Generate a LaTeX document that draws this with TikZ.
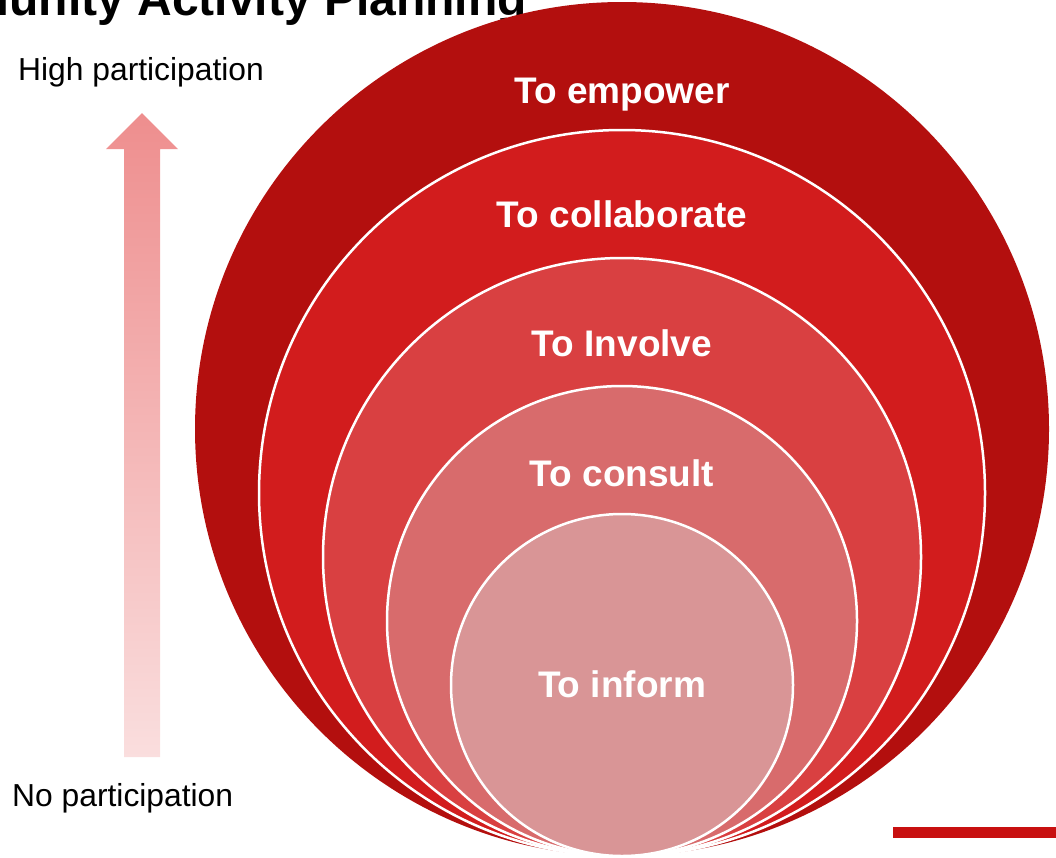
\documentclass[tikz,border=0pt]{standalone}
\usepackage{fontspec}
\setmainfont{Liberation Sans}
\begin{document}
\begin{tikzpicture}[x=1pt,y=-1pt,
  ring/.style={draw=white, line width=2.5pt},
  ringlabel/.style={anchor=base, text=white, font=\fontsize{37}{40}\selectfont\bfseries, inner sep=0pt},
  sidelabel/.style={anchor=base west, text=black, font=\fontsize{31.8}{34}\selectfont, inner sep=0pt},
  titlelabel/.style={anchor=base east, text=black, font=\fontsize{48}{52}\selectfont\bfseries, inner sep=0pt}]
  \definecolor{cEmpower}{RGB}{179,15,14}
  \definecolor{cCollab}{RGB}{210,28,29}
  \definecolor{cInvolve}{RGB}{217,64,65}
  \definecolor{cConsult}{RGB}{216,107,108}
  \definecolor{cInform}{RGB}{217,149,150}
  \definecolor{cArrowTop}{RGB}{238,142,142}
  \definecolor{cArrowBot}{RGB}{250,222,222}
  \definecolor{cBar}{RGB}{200,16,16}
  \useasboundingbox (0,0) rectangle (1056,857);

  % title, running off the top and left edges of the page
  \node[titlelabel] (title) at (527,15) {Community Activity Planning};

  % nested circles, all touching at the bottom point
  \fill[cEmpower] (622,429) circle[radius=427];
  \filldraw[ring, fill=cCollab]  (622,493) circle[radius=363];
  \filldraw[ring, fill=cInvolve] (622,557) circle[radius=299];
  \filldraw[ring, fill=cConsult] (622,621) circle[radius=235];
  \filldraw[ring, fill=cInform]  (622,685) circle[radius=171];

  \node[ringlabel] (empower) at (622,103) {To empower};
  \node[ringlabel] (collab)  at (622,227) {To collaborate};
  \node[ringlabel] (involve) at (622,356) {To Involve};
  \node[ringlabel] (consult) at (622,486) {To consult};
  \node[ringlabel] (inform)  at (622,697) {To inform};

  % participation scale
  \node[sidelabel] (high) at (18,80) {High participation};
  \node[sidelabel] (none) at (12,806) {No participation};
  \shade[top color=cArrowTop, bottom color=cArrowBot]
    (124,757) -- (124,149) -- (106,149) -- (142,113) -- (178,149)
    -- (160,149) -- (160,757) -- cycle;

  % accent bar
  \fill[cBar] (893,827) rectangle (1056,838);
\end{tikzpicture}
\end{document}
